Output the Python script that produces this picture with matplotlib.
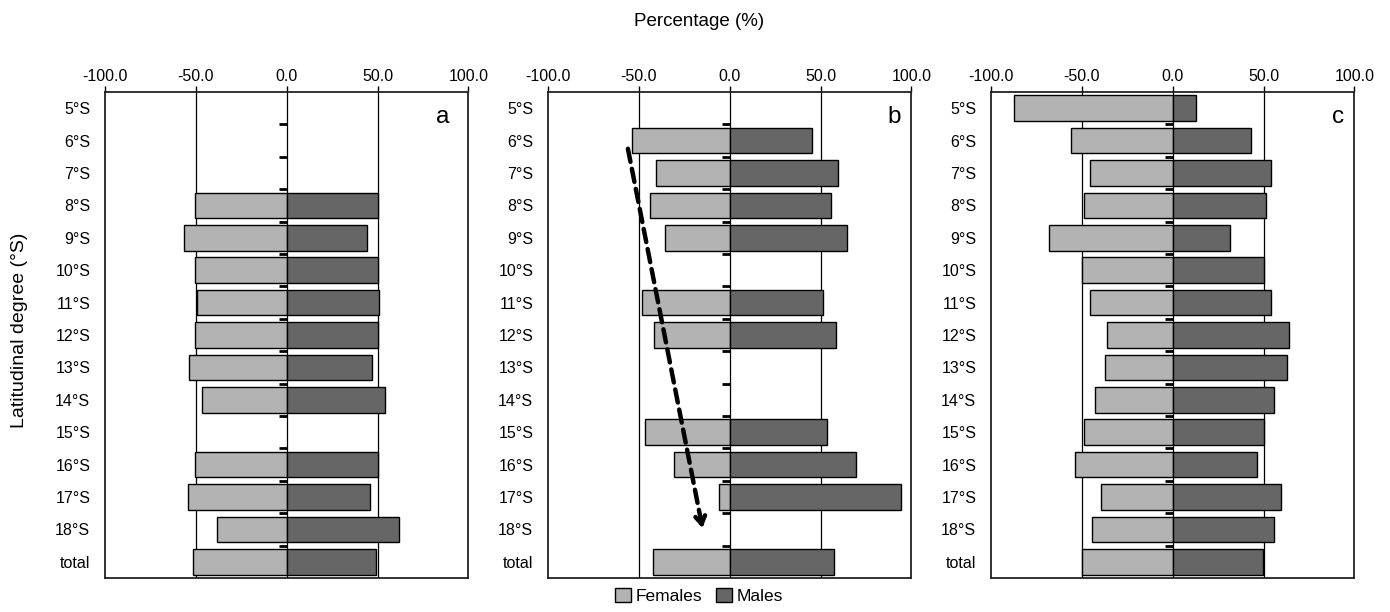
import numpy as np
import matplotlib
matplotlib.use("Agg")
from matplotlib import pyplot as plt
from matplotlib.patches import Patch

plt.rcParams['font.family'] = ['Liberation Sans', 'DejaVu Sans']

# data
# ########################################
categories = ['5°S', '6°S', '7°S', '8°S', '9°S', '10°S', '11°S', '12°S',
              '13°S', '14°S', '15°S', '16°S', '17°S', '18°S', 'total']
nan = np.nan

females_a = [nan, nan, nan, 50.5, 56.5, 50.5, 49.5, 50.5, 53.5, 46.5, nan, 50.5, 54.5, 38.5, 51.5]
males_a = [nan, nan, nan, 50.0, 44.0, 50.0, 51.0, 50.0, 47.0, 54.0, nan, 50.0, 46.0, 62.0, 49.0]

females_b = [nan, 54.0, 40.5, 44.0, 35.5, nan, 48.0, 41.5, nan, nan, 46.5, 30.5, 6.0, nan, 42.0]
males_b = [nan, 45.5, 59.5, 55.5, 64.5, nan, 51.5, 58.5, nan, nan, 53.5, 69.5, 94.0, nan, 57.5]

females_c = [87.5, 56.0, 45.5, 49.0, 68.0, 50.0, 45.5, 36.0, 37.5, 43.0, 49.0, 53.5, 39.5, 44.5, 50.0]
males_c = [13.0, 43.0, 54.0, 51.5, 31.5, 50.0, 54.0, 64.0, 63.0, 56.0, 50.0, 46.5, 59.5, 56.0, 49.5]

xticks = [-100, -50, 0, 50, 100]
panel_letters = ['a', 'b', 'c']

# trend arrow in panel b: (x, row index)
arrow_start = (-56, 1.25)
arrow_end = (-15, 12.95)

female_color = '#b3b3b3'
male_color = '#666666'

# figure
# ########################################
fig = plt.figure(figsize=(13.9, 6.12), dpi=100)
lefts = [0.0755, 0.3942, 0.7129]
letter_x = [0.93, 0.953, 0.956]
panels = [(females_a, males_a), (females_b, males_b), (females_c, males_c)]
y = np.arange(len(categories))

axes = []
for left, (fem, mal), letter, lx in zip(lefts, panels, panel_letters, letter_x):
    ax = fig.add_axes([left, 0.0556, 0.2615, 0.794])
    axes.append(ax)

    # grid lines at -50, 0, 50
    for gx in (-50, 0, 50):
        ax.axvline(gx, color='black', lw=0.9, zorder=1)

    # row separator marks on the zero line
    for b in y[:-1] + 0.5:
        ax.plot([-4.2, 0], [b, b], color='black', lw=2, zorder=1.5,
                solid_capstyle='butt')

    ax.barh(y, -np.array(fem), height=0.79, color=female_color,
            edgecolor='black', lw=1.0, zorder=2)
    ax.barh(y, np.array(mal), height=0.79, color=male_color,
            edgecolor='black', lw=1.0, zorder=2)

    ax.set_xlim(-100, 100)
    ax.set_ylim(len(categories) - 0.5, -0.5)
    ax.set_yticks(y)
    ax.set_yticklabels(categories)
    ax.set_xticks(xticks)
    ax.set_xticklabels([f'{v:.1f}' for v in xticks])
    ax.xaxis.tick_top()
    ax.tick_params(axis='x', top=True, bottom=False, length=4, width=1,
                   labelsize=11.5, pad=2)
    ax.tick_params(axis='y', left=False, labelsize=11.5, pad=7)
    for sp in ax.spines.values():
        sp.set_linewidth(1.3)
        sp.set_color('#222222')

    ax.text(lx, 0.948, letter, transform=ax.transAxes, fontsize=17.5,
            ha='center', va='center')

# dashed arrow in panel b: dashed shaft + solid head
axb = axes[1]
axb.annotate('', xy=arrow_end, xytext=arrow_start,
             arrowprops=dict(arrowstyle='-', lw=3.2, color='black',
                             linestyle=(0, (3, 1.6)), shrinkA=0, shrinkB=6),
             zorder=5)
axb.annotate('', xy=arrow_end, xytext=(arrow_end[0] - 0.5, arrow_end[1] - 0.15),
             arrowprops=dict(arrowstyle='->,head_length=0.55,head_width=0.35',
                             lw=3.2, color='black', shrinkA=0, shrinkB=0),
             zorder=5)

fig.text(0.503, 0.965, 'Percentage (%)', ha='center', va='center', fontsize=13.5)
fig.text(0.014, 0.46, 'Latitudinal degree (°S)', ha='center', va='center',
         rotation=90, fontsize=14)

handles = [Patch(facecolor=female_color, edgecolor='black', label='Females'),
           Patch(facecolor=male_color, edgecolor='black', label='Males')]
fig.legend(handles=handles, loc='lower center', bbox_to_anchor=(0.503, -0.012),
           ncol=2, frameon=False, fontsize=12.5, handlelength=0.9,
           handleheight=0.9, handletextpad=0.3, columnspacing=0.8)

fig.savefig('out.png', dpi=100)
